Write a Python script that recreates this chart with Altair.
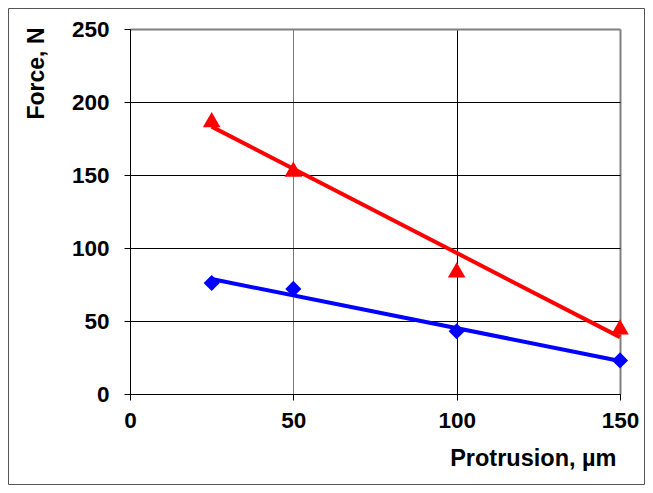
import altair as alt
import pandas as pd

protrusion = [25, 50, 100, 150]
force_diamond = [76, 72, 43, 23]
force_triangle = [188, 154, 85, 46]

x_ticks = [0, 50, 100, 150]
y_ticks = [0, 50, 100, 150, 200, 250]

df = pd.DataFrame({
    "Protrusion": protrusion * 2,
    "Force": force_diamond + force_triangle,
    "Series": ["diamond"] * 4 + ["triangle"] * 4,
})

FONT = "Liberation Sans"
color_scale = alt.Scale(domain=["diamond", "triangle"], range=["#0000FF", "#FF0000"])

x_enc = alt.X(
    "Protrusion:Q",
    scale=alt.Scale(domain=[0, 150], nice=False, zero=False),
    axis=alt.Axis(
        values=x_ticks, title="Protrusion, µm", grid=True,
        gridColor=alt.ExprRef("datum.value == 150 ? '#808080' : (datum.value == 50 ? '#7a7a7a' : '#000000')"),
        gridWidth=alt.ExprRef("datum.value == 150 ? 2 : 1"),
        domainColor="#000000", tickColor="#000000", tickSize=6,
        labelFont=FONT, labelFontSize=22.5, labelFontWeight="bold", labelColor="#000000",
        labelPadding=9, labelFlush=False, labelOverlap=False,
        titleFont=FONT, titleFontSize=23.5, titleFontWeight="bold", titleColor="#000000",
        titleX=486, titleY=71, titleAnchor="end", titleAlign="right", titleBaseline="alphabetic",
    ),
)
y_enc = alt.Y(
    "Force:Q",
    scale=alt.Scale(domain=[0, 250], nice=False),
    axis=alt.Axis(
        values=y_ticks, title="Force, N", grid=True,
        gridColor=alt.ExprRef("datum.value == 250 ? '#808080' : '#000000'"),
        gridWidth=alt.ExprRef("datum.value == 250 ? 2 : 1"),
        domainColor="#000000", tickColor="#000000", tickSize=6,
        labelFont=FONT, labelFontSize=22.5, labelFontWeight="bold", labelColor="#000000",
        labelPadding=15, labelOverlap=False, labelFlush=False,
        titleFont=FONT, titleFontSize=23, titleFontWeight="bold", titleColor="#000000",
        titleAngle=270, titleX=-87, titleY=-2, titleAlign="right", titleBaseline="alphabetic",
    ),
)

base = alt.Chart(df)

trend = base.transform_regression(
    "Protrusion", "Force", groupby=["Series"]
).mark_line(strokeWidth=4).encode(
    x=x_enc, y=y_enc,
    color=alt.Color("Series:N", scale=color_scale, legend=None),
)

diamonds = base.transform_filter(alt.datum.Series == "diamond").mark_point(
    shape="diamond", filled=True, opacity=1, size=260, color="#0000FF"
).encode(x="Protrusion:Q", y="Force:Q")

triangles = base.transform_filter(alt.datum.Series == "triangle").mark_point(
    shape="triangle-up", filled=True, opacity=1, size=310, color="#FF0000"
).encode(x="Protrusion:Q", y="Force:Q")

frame = alt.Chart(pd.DataFrame({"f": [0]})).mark_rect(
    fillOpacity=0, stroke="#555555", strokeWidth=1, clip=False
).encode(
    x=alt.value(-121.5), x2=alt.value(514.5), y=alt.value(-20.5), y2=alt.value(455.5)
)

chart = alt.layer(trend, diamonds, triangles, frame).properties(
    width=490, height=365,
    autosize=alt.AutoSizeParams(type="none"),
    padding={"left": 122, "top": 21, "right": 25, "bottom": 91},
    background="white",
).configure_view(stroke="transparent")

chart.save("out.html", embed_options={"renderer": "svg", "actions": False})
